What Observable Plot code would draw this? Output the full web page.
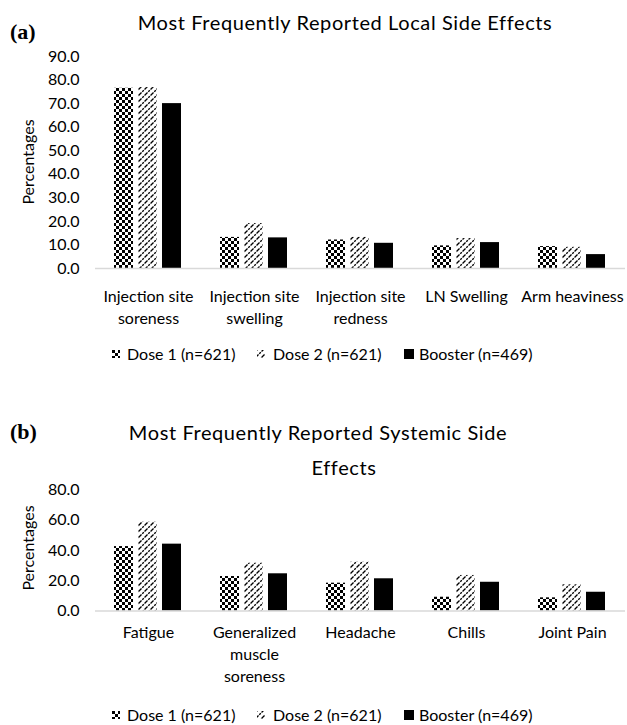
<!DOCTYPE html>
<html>
<head>
<meta charset="utf-8">
<script src="https://cdn.jsdelivr.net/npm/d3@7"></script>
<script src="https://cdn.jsdelivr.net/npm/@observablehq/plot@0.6"></script>
<style>
  html, body { margin: 0; padding: 0; background: #fff; }
  #root { position: relative; width: 627px; height: 725px; overflow: hidden; font-family: Lato, "Open Sans", sans-serif; color: #000; }
  .abs { position: absolute; white-space: nowrap; line-height: 1; }
  .panel { position: absolute; left: 0; }
  .leg { position: absolute; display: flex; align-items: center; font-size: 16px; white-space: nowrap; }
  .leg svg { display: block; }
</style>
</head>
<body>
<svg width="0" height="0" style="position:absolute">
  <defs>
    <pattern id="checker" width="6" height="6" patternUnits="userSpaceOnUse">
      <rect width="6" height="6" fill="#fff"/>
      <rect x="0" y="0" width="3" height="3" fill="#000"/>
      <rect x="3" y="3" width="3" height="3" fill="#000"/>
    </pattern>
    <pattern id="hatch" width="6" height="6" patternUnits="userSpaceOnUse">
      <rect width="6" height="6" fill="#fff"/>
      <path d="M-1,1 L1,-1 M0,6 L6,0 M5,7 L7,5" stroke="#000" stroke-width="1.3" stroke-dasharray="2.2 1"/>
    </pattern>
  </defs>
</svg>
<div id="root"></div>
<script>
// ---------- data ----------
const series = ["Dose 1 (n=621)", "Dose 2 (n=621)", "Booster (n=469)"];

const localCats = ["Injection site soreness", "Injection site swelling", "Injection site redness", "LN Swelling", "Arm heaviness"];
const localLabels = ["Injection site\nsoreness", "Injection site\nswelling", "Injection site\nredness", "LN Swelling", "Arm heaviness"];
const localDose1 = [76.5, 13.2, 12.1, 9.6, 9.3];
const localDose2 = [76.8, 19.1, 13.2, 12.7, 9.0];
const localBooster = [70.0, 13.0, 10.7, 11.0, 5.9];
const localTicks = [0, 10, 20, 30, 40, 50, 60, 70, 80, 90];

const sysCats = ["Fatigue", "Generalized muscle soreness", "Headache", "Chills", "Joint Pain"];
const sysLabels = ["Fatigue", "Generalized\nmuscle\nsoreness", "Headache", "Chills", "Joint Pain"];
const sysDose1 = [42.6, 22.8, 18.4, 9.1, 8.7];
const sysDose2 = [58.7, 31.6, 32.3, 23.5, 17.3];
const sysBooster = [44.2, 24.6, 21.3, 19.0, 12.4];
const sysTicks = [0, 20, 40, 60, 80];

const fills = ["url(#checker)", "url(#hatch)", "#000"];

function table(cats, arrays) {
  return cats.flatMap((c, i) => series.map((s, j) => ({cat: c, series: s, value: arrays[j][i]})));
}

function panel({cats, labels, arrays, ticks, height, marginTop, marginBottom, labelDy}) {
  const rows = table(cats, arrays);
  return Plot.plot({
    width: 627,
    height,
    marginLeft: 93,
    marginRight: 0,
    marginTop,
    marginBottom,
    style: {fontFamily: "Lato, 'Open Sans', sans-serif", fontSize: "16px", color: "#000", background: "transparent", overflow: "visible"},
    fx: {domain: cats, padding: 0, axis: null, label: null},
    x: {domain: series, paddingInner: 0.2, paddingOuter: 0.78, axis: null},
    y: {domain: [ticks[0], ticks[ticks.length - 1]], ticks, tickFormat: d3.format(".1f"), tickSize: 0, tickPadding: 16, label: null},
    color: {domain: series, range: fills},
    marks: [
      Plot.barY(rows, {fx: "cat", x: "series", y: "value", fill: "series"}),
      Plot.ruleY([0], {stroke: "#d9d9d9", strokeWidth: 1.5}),
      Plot.text(cats, {fx: d => d, text: (d, i) => labels[i], frameAnchor: "bottom", lineAnchor: "top", dy: labelDy, lineHeight: 1.375, fontSize: 16})
    ]
  });
}

const root = document.getElementById("root");

function addText(text, x, y, style, anchor = "middle", rotate = 0) {
  const el = document.createElement("div");
  el.className = "abs";
  el.textContent = text;
  Object.assign(el.style, style);
  el.style.left = x + "px";
  el.style.top = y + "px";
  const tx = anchor === "middle" ? "-50%" : anchor === "end" ? "-100%" : "0";
  el.style.transform = `translate(${tx}, -50%)` + (rotate ? ` rotate(${rotate}deg)` : "");
  root.appendChild(el);
  return el;
}

function addPlot(svg, top) {
  svg.classList.add("panel");
  svg.style.top = top + "px";
  root.appendChild(svg);
}

function swatch(fill, size) {
  return `<svg width="${size}" height="${size}"><rect width="${size}" height="${size}" fill="${fill}"/></svg>`;
}

function addLegend(y) {
  const xs = [[112, 127], [257, 273], [404, 419]];
  series.forEach((s, i) => {
    const m = document.createElement("div");
    m.className = "leg";
    m.innerHTML = swatch(fills[i], i === 2 ? 10 : 8);
    m.style.left = xs[i][0] + "px";
    m.style.top = (y - (i === 2 ? 5 : 4)) + "px";
    root.appendChild(m);
    const t = document.createElement("div");
    t.className = "leg";
    t.textContent = s;
    t.style.left = xs[i][1] + "px";
    t.style.top = (y - 10) + "px";
    t.style.lineHeight = "20px";
    root.appendChild(t);
  });
}

const titleStyle = {fontSize: "20px", letterSpacing: "0.6px"};
const serifStyle = {fontFamily: "'Liberation Serif', 'Times New Roman', serif", fontWeight: "bold", fontSize: "22px"};

// ---------- panel (a) ----------
addText("(a)", 10, 32, serifStyle, "start");
addText("Most Frequently Reported Local Side Effects", 345, 22, titleStyle);
addText("Percentages", 28, 162, {fontSize: "16px"}, "middle", -90);
addPlot(panel({cats: localCats, labels: localLabels, arrays: [localDose1, localDose2, localBooster], ticks: localTicks, height: 300, marginTop: 16, marginBottom: 72, labelDy: 18}), 40);
addLegend(354);

// ---------- panel (b) ----------
addText("(b)", 10, 432, serifStyle, "start");
addText("Most Frequently Reported Systemic Side", 318, 432, titleStyle);
addText("Effects", 344, 467, titleStyle);
addText("Percentages", 28, 548, {fontSize: "16px"}, "middle", -90);
addPlot(panel({cats: sysCats, labels: sysLabels, arrays: [sysDose1, sysDose2, sysBooster], ticks: sysTicks, height: 224, marginTop: 13.5, marginBottom: 89.5, labelDy: 11}), 476);
addLegend(715);
</script>
</body>
</html>
